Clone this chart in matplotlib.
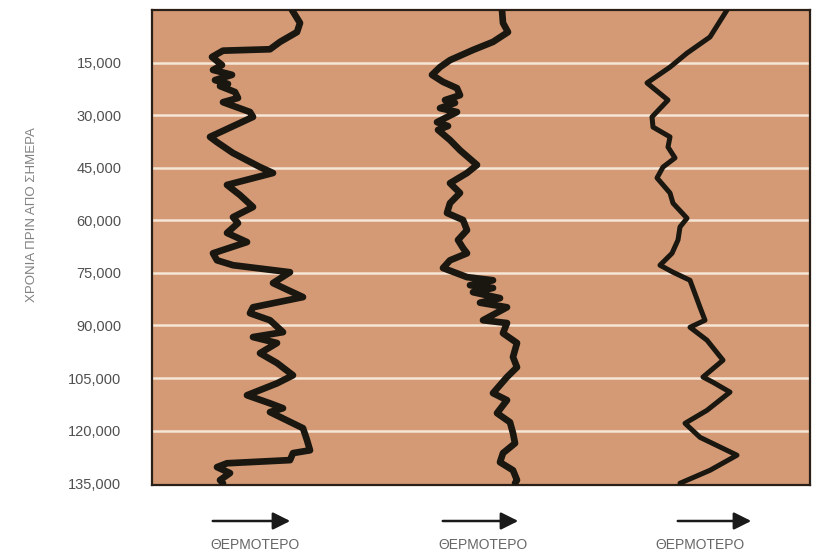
import matplotlib
matplotlib.use("Agg")
import matplotlib.pyplot as plt

plt.rcParams['font.family'] = ['Liberation Sans', 'DejaVu Sans']

# years before present, in thousands
years_1 = [0, 3.7, 6.3, 9.1, 11.2, 11.6, 13.4, 15.7, 17.1, 18.5, 20.0, 21.1, 21.7, 23.4, 25.1,
           26.3, 29.1, 30.5, 36.2, 37.7, 40.8, 44.8, 46.5, 49.9, 52.8, 56.2, 59.1, 60.8, 63.6,
           66.2, 69.4, 71.4, 72.8, 74.8, 77.9, 81.9, 84.8, 86.5, 88.5, 91.9, 93.3, 95.0, 97.9,
           100.7, 104.2, 106.5, 109.9, 112.2, 113.6, 114.7, 119.3, 122.7, 125.6, 126.4, 128.4,
           129.3, 130.4, 132.1, 134.1, 135.0]
temp_1 = [292, 300, 297, 280, 270, 223, 212, 222, 213, 232, 215, 228, 220, 235, 238,
          223, 250, 253, 210, 217, 233, 260, 273, 227, 240, 253, 233, 238, 227,
          247, 213, 217, 233, 290, 273, 303, 253, 250, 270, 283, 253, 277, 260,
          277, 293, 277, 247, 270, 283, 270, 303, 307, 310, 293, 290,
          227, 217, 230, 220, 223]

years_2 = [0, 3.7, 6.3, 9.1, 11.4, 14.3, 16.3, 18.5, 20.5, 22.3, 24.3, 25.7, 26.5, 28.0, 29.1,
           32.0, 33.1, 34.2, 37.1, 40.0, 44.2, 46.5, 49.4, 52.2, 55.1, 57.9, 59.9, 62.8, 65.6,
           67.9, 69.4, 71.4, 73.6, 76.2, 77.1, 78.5, 79.3, 80.5, 82.2, 83.5, 84.8, 88.5, 89.3,
           92.2, 95.0, 99.0, 101.9, 104.7, 109.3, 111.3, 115.0, 117.6, 120.7, 123.6, 126.4,
           129.0, 131.3, 134.1, 135.0]
temp_2 = [502, 503, 508, 493, 473, 450, 440, 432, 443, 457, 460, 445, 455, 440, 457,
          437, 448, 438, 450, 460, 477, 467, 450, 460, 450, 447, 463, 467, 458,
          463, 467, 450, 443, 467, 493, 470, 493, 473, 500, 480, 507, 483, 507,
          503, 517, 513, 517, 507, 493, 507, 497, 510, 513, 515, 503,
          500, 513, 517, 515]

years_3 = [0, 7.7, 12.3, 16.3, 20.8, 25.7, 30.5, 33.4, 36.2, 39.1, 42.2, 44.8, 47.9, 52.2,
           55.1, 59.4, 61.9, 65.6, 69.4, 72.8, 74.8, 77.1, 84.8, 88.5, 90.5, 94.2, 99.9,
           104.7, 106.2, 109.0, 114.2, 117.9, 121.9, 127.0, 131.3, 135.0]
temp_3 = [727, 710, 687, 670, 647, 668, 652, 653, 670, 668, 675, 663, 657, 670,
          673, 687, 680, 678, 672, 660, 673, 690, 700, 705, 690, 707, 723,
          703, 713, 730, 707, 685, 700, 737, 710, 680]

tick_years = [15, 30, 45, 60, 75, 90, 105, 120, 135]
tick_labels = ['15,000', '30,000', '45,000', '60,000', '75,000',
               '90,000', '105,000', '120,000', '135,000']

fig = plt.figure(figsize=(8.17, 5.53), dpi=100)
ax = fig.add_axes([152 / 817, 1 - 485 / 553, 658 / 817, 475 / 553])
ax.set_facecolor('#d39a75')

for y in tick_years[:-1]:
    ax.axhline(y, color='#f6e6d6', lw=1.8, zorder=1)

for t, y, lw in [(temp_1, years_1, 4.8), (temp_2, years_2, 4.8), (temp_3, years_3, 3.6)]:
    ax.plot(t, y, color='#1a1610', lw=lw, solid_joinstyle='round',
            solid_capstyle='round', zorder=3)

ax.set_xlim(152, 810)
ax.set_ylim(135.5, 0)
ax.set_xticks([])
ax.set_yticks(tick_years)
ax.set_yticklabels(tick_labels, fontsize=10.5, color='#505050')
ax.tick_params(axis='y', length=0, pad=22)
for s in ax.spines.values():
    s.set_color('#2a2018')
    s.set_linewidth(1.6)

fig.text(32 / 817, 1 - 215 / 553, 'ΧΡΟΝΙΑ ΠΡΙΝ ΑΠΟ ΣΗΜΕΡΑ', rotation=90,
         ha='center', va='center', fontsize=9.5, color='#808080')

# arrows + labels under each column
arrows = [(210, 293, 255), (440, 521, 483), (675, 754, 700)]
for x0, x1, xt in arrows:
    fig.patches.append(matplotlib.patches.FancyArrowPatch(
        (x0 / 817, 1 - 521 / 553), (x1 / 817, 1 - 521 / 553),
        transform=fig.transFigure, arrowstyle='-|>,head_length=7,head_width=3.5',
        color='#1a1a1a', lw=1.8, mutation_scale=1.5))
    fig.text(xt / 817, 1 - 545 / 553, 'ΘΕΡΜΟΤΕΡΟ', ha='center', va='center',
             fontsize=10, color='#666666')

fig.savefig('out.png', dpi=100)
